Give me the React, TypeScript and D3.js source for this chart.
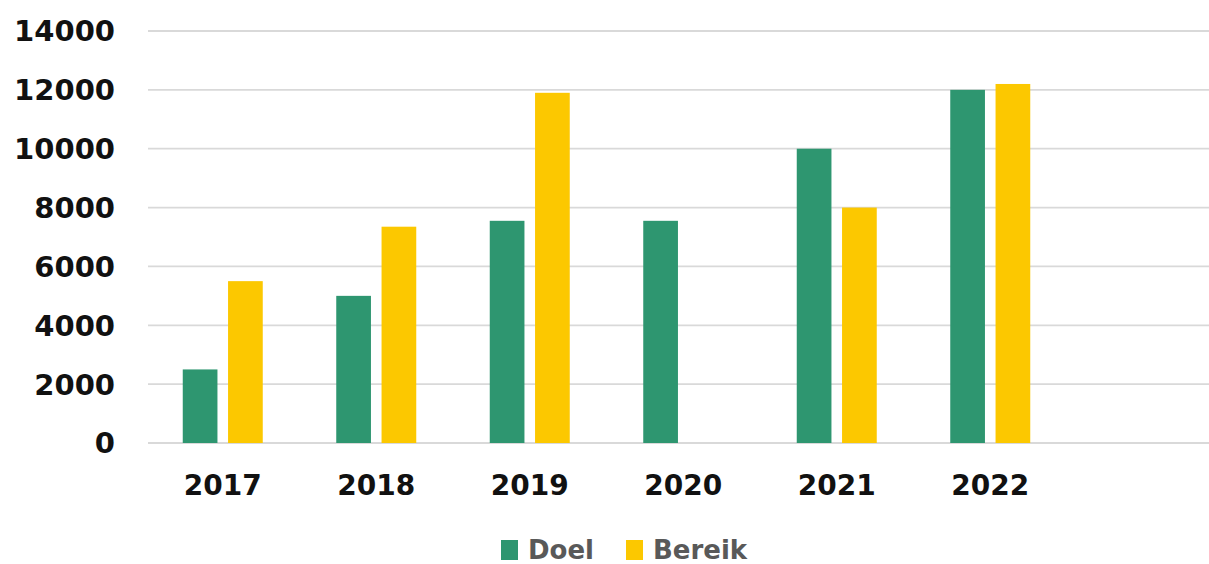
import React from "react";
import * as d3 from "d3";

const categories = ["2017", "2018", "2019", "2020", "2021", "2022"];
const seriesNames = ["Doel", "Bereik"];
const doel = [2500, 5000, 7550, 7550, 10000, 12000];
const bereik: (number | null)[] = [5500, 7350, 11900, null, 8000, 12200];
const yTicks = [0, 2000, 4000, 6000, 8000, 10000, 12000, 14000];
const colors = ["#2E9670", "#FCC800"];

const W = 1209;
const H = 564;
const FONT = "'DejaVu Sans', sans-serif";

export default function App() {
  const y = d3.scaleLinear().domain([0, 14000]).range([443, 31]);
  const x0 = d3.scaleBand<string>().domain(categories).range([146, 1067]).padding(0);
  const x1 = d3
    .scaleBand<string>()
    .domain(seriesNames)
    .range([x0.bandwidth() / 2 - 40, x0.bandwidth() / 2 + 40])
    .paddingInner(0.234)
    .paddingOuter(0);

  const series = [doel, bereik];

  return (
    <svg
      width={W}
      height={H}
      style={{ position: "absolute", left: 0, top: 0, background: "#fff" }}
    >
      {yTicks.map((t) => (
        <g key={t}>
          <line x1={148} x2={W} y1={y(t)} y2={y(t)} stroke="#d9d9d9" strokeWidth={1.8} />
          <text
            x={115}
            y={y(t)}
            dy="0.36em"
            textAnchor="end"
            fontFamily={FONT}
            fontWeight="bold"
            fontSize={29}
            fill="#111"
          >
            {t}
          </text>
        </g>
      ))}
      {categories.map((c, i) => (
        <g key={c} transform={`translate(${x0(c)},0)`}>
          {series.map((s, j) => {
            const v = s[i];
            if (v == null) return null;
            return (
              <rect
                key={j}
                x={x1(seriesNames[j])}
                y={y(v)}
                width={x1.bandwidth()}
                height={y(0) - y(v)}
                fill={colors[j]}
              />
            );
          })}
          <text
            x={x0.bandwidth() / 2}
            y={495}
            textAnchor="middle"
            fontFamily={FONT}
            fontWeight="bold"
            fontSize={28}
            fill="#111"
          >
            {c}
          </text>
        </g>
      ))}
      {seriesNames.map((n, j) => {
        const lx = [501, 626][j];
        return (
          <g key={n}>
            <rect x={lx} y={540} width={17} height={20} fill={colors[j]} />
            <text
              x={lx + 27}
              y={559}
              fontFamily={FONT}
              fontWeight="bold"
              fontSize={26}
              fill="#595959"
            >
              {n}
            </text>
          </g>
        );
      })}
    </svg>
  );
}
